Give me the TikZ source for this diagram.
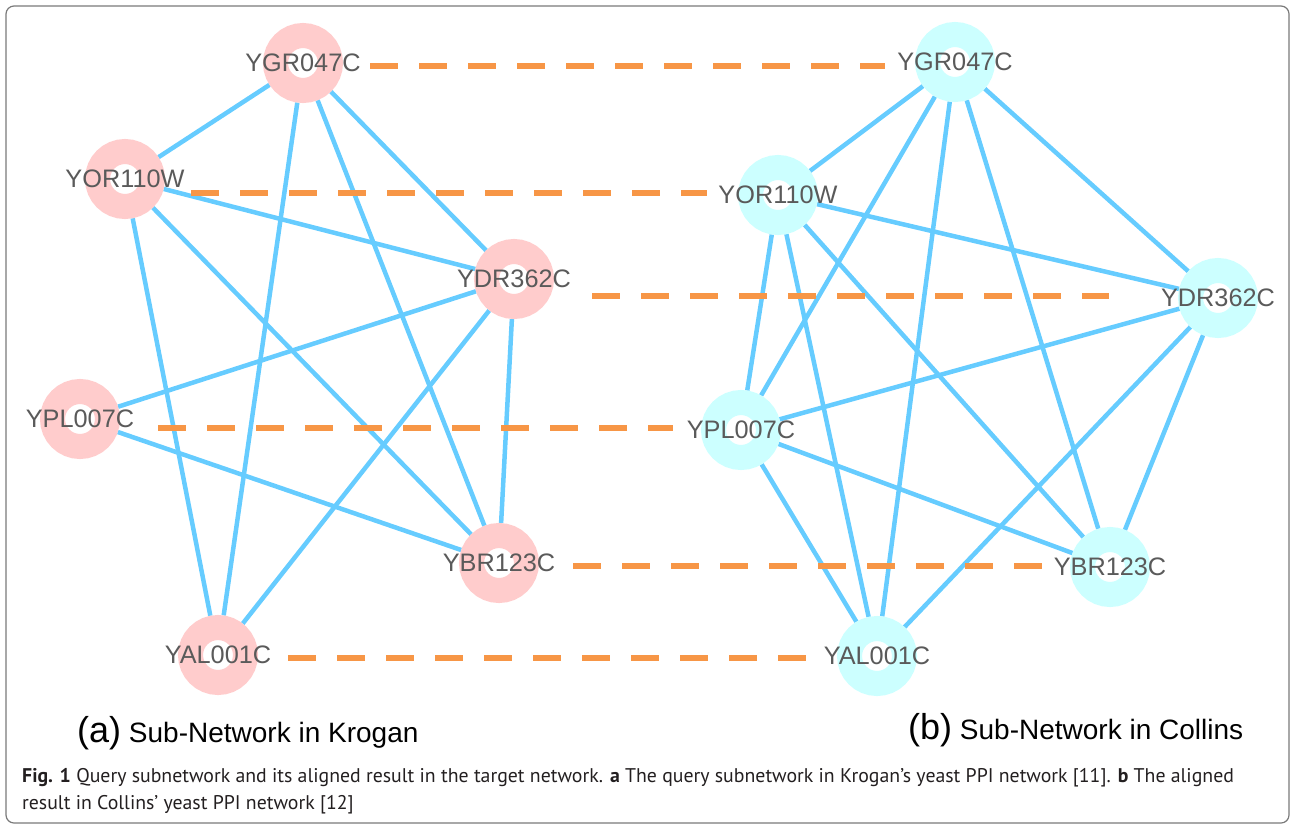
\documentclass[tikz,border=0pt]{standalone}
\usepackage{fontspec}
\setmainfont{Liberation Sans}
\newfontfamily\capfont{PT Sans}
\definecolor{pinkc}{HTML}{FFCCCC}
\definecolor{cyanc}{HTML}{CCFFFF}
\definecolor{edgeblue}{HTML}{66CCFF}
\definecolor{dashorange}{HTML}{F79646}
\definecolor{labgray}{HTML}{5A5A5A}
\definecolor{framegray}{HTML}{7A7A7A}
\definecolor{captext}{HTML}{231F20}
\pgfdeclarelayer{bg}
\pgfsetlayers{bg,main}
\begin{document}
\begin{tikzpicture}[x=1pt,y=-1pt,
  ringL/.style={circle, draw=pinkc, fill=white, line width=25pt, minimum size=55pt, inner sep=0pt},
  ringR/.style={circle, draw=cyanc, fill=white, line width=25pt, minimum size=55pt, inner sep=0pt},
  lab/.style={text=labgray, font=\fontsize{25.3}{27}\selectfont, inner sep=0pt, anchor=center},
  edge/.style={draw=edgeblue, line width=4.5pt},
  alignline/.style={draw=dashorange, line width=6pt, dash pattern=on 28pt off 21pt},
  sublab/.style={text=black, font=\fontsize{28}{32}\selectfont, inner sep=0pt, anchor=base west},
  caption/.style={text=captext, font=\capfont\fontsize{19.8}{22}\selectfont, inner sep=0pt, anchor=base west}]
\useasboundingbox (0,0) rectangle (1292,828);
\draw[framegray, line width=1.2pt, rounded corners=8pt] (6,6) rectangle (1289,823);

% left network nodes
\node[ringL] (lYGR) at (303,63) {};
\node[ringL] (lYOR) at (125,179) {};
\node[ringL] (lYDR) at (514,279) {};
\node[ringL] (lYPL) at (80,419) {};
\node[ringL] (lYBR) at (499,563) {};
\node[ringL] (lYAL) at (218,655) {};
% right network nodes
\node[ringR] (rYGR) at (955,62) {};
\node[ringR] (rYOR) at (778,195) {};
\node[ringR] (rYDR) at (1218,298) {};
\node[ringR] (rYPL) at (741,430) {};
\node[ringR] (rYBR) at (1110,567) {};
\node[ringR] (rYAL) at (877,656) {};

% labels
\node[lab] (lYGRt) at (lYGR) {YGR047C};
\node[lab] (lYORt) at (lYOR) {YOR110W};
\node[lab] (lYDRt) at (lYDR) {YDR362C};
\node[lab] (lYPLt) at (lYPL) {YPL007C};
\node[lab] (lYBRt) at (lYBR) {YBR123C};
\node[lab] (lYALt) at (lYAL) {YAL001C};
\node[lab] (rYGRt) at (rYGR) {YGR047C};
\node[lab] (rYORt) at (rYOR) {YOR110W};
\node[lab] (rYDRt) at (rYDR) {YDR362C};
\node[lab] (rYPLt) at (rYPL) {YPL007C};
\node[lab] (rYBRt) at (rYBR) {YBR123C};
\node[lab] (rYALt) at (rYAL) {YAL001C};

% alignment dash ends
\coordinate (dYGRa) at (370,66);  \coordinate (dYGRb) at (885,66);
\coordinate (dYORa) at (191,193); \coordinate (dYORb) at (707,193);
\coordinate (dYDRa) at (592,296); \coordinate (dYDRb) at (1109,296);
\coordinate (dYPLa) at (158,428); \coordinate (dYPLb) at (673,428);
\coordinate (dYBRa) at (573,566); \coordinate (dYBRb) at (1044,566);
\coordinate (dYALa) at (288,658); \coordinate (dYALb) at (808,658);

\begin{pgfonlayer}{bg}
% left edges
\draw[edge] (lYGR) -- (lYOR);
\draw[edge] (lYGR) -- (lYAL);
\draw[edge] (lYGR) -- (lYBR);
\draw[edge] (lYGR) -- (lYDR);
\draw[edge] (lYOR) -- (lYDR);
\draw[edge] (lYOR) -- (lYBR);
\draw[edge] (lYOR) -- (lYAL);
\draw[edge] (lYDR) -- (lYPL);
\draw[edge] (lYDR) -- (lYAL);
\draw[edge] (lYDR) -- (lYBR);
\draw[edge] (lYPL) -- (lYBR);
% right edges
\draw[edge] (rYGR) -- (rYOR);
\draw[edge] (rYGR) -- (rYPL);
\draw[edge] (rYGR) -- (rYAL);
\draw[edge] (rYGR) -- (rYBR);
\draw[edge] (rYGR) -- (rYDR);
\draw[edge] (rYOR) -- (rYDR);
\draw[edge] (rYOR) -- (rYPL);
\draw[edge] (rYOR) -- (rYAL);
\draw[edge] (rYOR) -- (rYBR);
\draw[edge] (rYDR) -- (rYPL);
\draw[edge] (rYDR) -- (rYAL);
\draw[edge] (rYDR) -- (rYBR);
\draw[edge] (rYPL) -- (rYBR);
\draw[edge] (rYPL) -- (rYAL);
\end{pgfonlayer}

% alignment lines
\draw[alignline] (dYGRa) -- (dYGRb);
\draw[alignline] (dYORa) -- (dYORb);
\draw[alignline] (dYDRa) -- (dYDRb);
\draw[alignline] (dYPLa) -- (dYPLb);
\draw[alignline] (dYBRa) -- (dYBRb);
\draw[alignline] (dYALa) -- (dYALb);

% sub-figure labels
\node[sublab] (suba) at (77,742) {{\fontsize{36}{40}\selectfont (a)} Sub-Network in Krogan};
\node[sublab] (subb) at (908,739) {{\fontsize{36}{40}\selectfont (b)} Sub-Network in Collins};

% caption
\node[caption] (cap1) at (22,782) {\textbf{Fig. 1} Query subnetwork and its aligned result in the target network. \textbf{a} The query subnetwork in Krogan’s yeast PPI network [11]. \textbf{b} The aligned};
\node[caption] (cap2) at (22,809) {result in Collins’ yeast PPI network [12]};
\end{tikzpicture}
\end{document}
